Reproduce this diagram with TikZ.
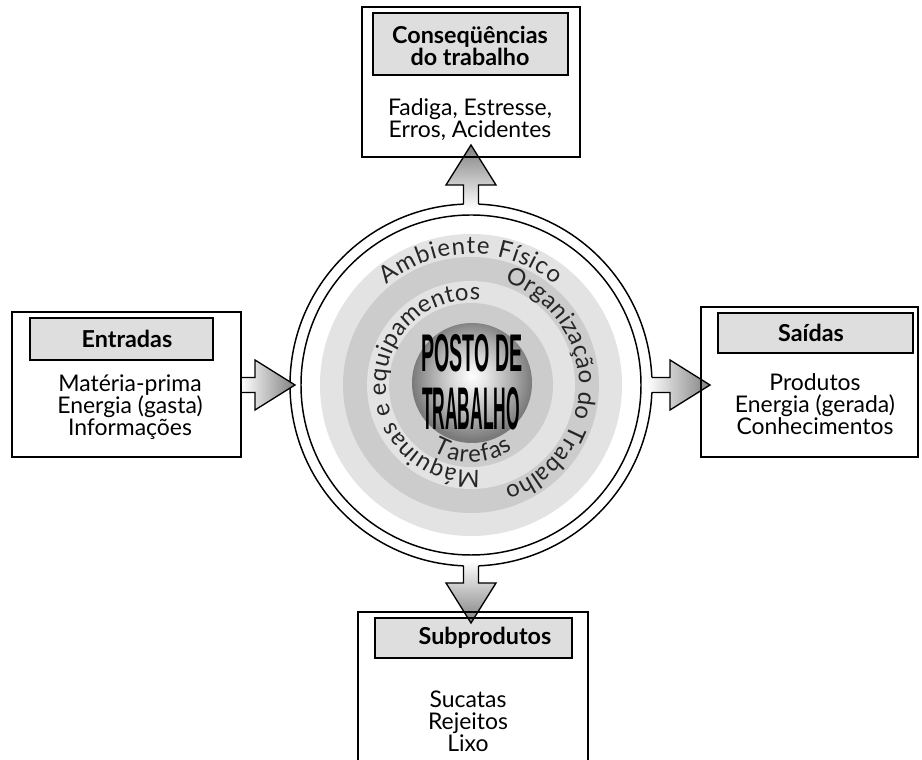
\documentclass[tikz,border=0pt]{standalone}
\usepackage{fontspec}
\usepackage{graphicx}
\setmainfont{Lato}
\newfontfamily\postofamily{Liberation Sans}
\usetikzlibrary{decorations.text}

% shaded globe in the middle of the workstation
\pgfdeclareradialshading{globe}{\pgfpoint{0bp}{3bp}}{%
  color(0bp)=(white); color(6bp)=(black!10); color(17bp)=(black!33);
  color(25bp)=(black!52); color(50bp)=(black!52)}

\newcommand\ringfont{\fontsize{18}{20}\selectfont\color{black!85}}
\newcommand\bodyfont{\fontsize{17.2}{16.5}\selectfont}
\newcommand\headfont{\fontsize{17.5}{15.75}\selectfont\bfseries}

\tikzset{
  box/.style 2 args={draw, line width=1.5pt, inner sep=0pt, outer sep=0pt,
    minimum width={#1*0.75pt}, minimum height={#2*0.75pt}},
  headbox/.style 2 args={box={#1}{#2}, fill=black!13},
  ringline/.style={line width=1.1pt},
  arrowline/.style={line width=1pt, line join=miter},
  headtext/.style={font=\headfont, align=center, inner sep=0pt},
  bodytext/.style={font=\bodyfont, align=center, inner sep=0pt},
  ringtext/.style 2 args={decorate, decoration={text along path,
    text={|\ringfont|#1}, text align={#2}}},
}

\begin{document}
\begin{tikzpicture}[x=0.75pt, y=0.75pt]
\useasboundingbox (0,0) rectangle (922,760);
\fill[white] (0,0) rectangle (922,760);

\coordinate (C) at (471,375);

% double outer ring of the workstation
\draw[ringline] (C) circle[radius=181];
\draw[ringline] (C) circle[radius=170];

% concentric grey bands
\fill[black!11] (C) circle[radius=151];
\fill[black!20] (C) circle[radius=128];
\fill[black!11] (C) circle[radius=104];
\fill[black!20] (C) circle[radius=82];
\shade[shading=globe] (472,377) circle[radius=60];

\node[inner sep=0pt, anchor=base] (posto) at (472,388)
  {\resizebox{75.75pt}{27.75pt}{\postofamily\bfseries POSTO DE}};
\node[inner sep=0pt, anchor=base] (trab) at (471,330)
  {\resizebox{73.5pt}{31.5pt}{\postofamily\bfseries TRABALHO}};

% labels of the bands
\path[ringtext={Ambiente Físico}{fit to path}]
  (C) ++(130:131) arc[start angle=130, end angle=50, radius=131];
\path[ringtext={Organização do Trabalho}{fit to path}]
  (C) ++(72:108) arc[start angle=72, end angle=-72, radius=108];
\path[ringtext={Máquinas e equipamentos}{fit to path}]
  (C) ++(-84:85) arc[start angle=-84, end angle=-276, radius=85];
\path[ringtext={Tarefas}{fit to path}]
  (C) ++(-120:77) arc[start angle=-120, end angle=-57, radius=77];

% grey title bars
\node[headbox={195}{62}] (hTop)   at (470.5,716) {};
\node[headbox={183}{42}] (hLeft)  at (121.5,421) {};
\node[headbox={195}{40}] (hRight) at (815.5,427) {};
\node[headbox={197}{40}] (hBot)   at (473.5,122) {};

% fat arrows
\shade[left color=white, right color=black!50]
  (241,367.5) -- (255,367.5) -- (255,350) -- (295,375) -- (255,400) -- (255,382.5) -- (241,382.5) -- cycle;
\draw[arrowline]
  (241,367.5) -- (255,367.5) -- (255,350) -- (295,375) -- (255,400) -- (255,382.5) -- (241,382.5);

\shade[left color=white, right color=black!50]
  (647,367.5) -- (670,367.5) -- (670,350) -- (710,375) -- (670,400) -- (670,382.5) -- (647,382.5) -- cycle;
\draw[arrowline]
  (651.8,367.5) -- (670,367.5) -- (670,350) -- (710,375) -- (670,400) -- (670,382.5) -- (651.8,382.5);

\shade[bottom color=white, top color=black!50]
  (463.5,551) -- (463.5,575) -- (446,575) -- (471,615) -- (496,575) -- (478.5,575) -- (478.5,551) -- cycle;
\draw[arrowline]
  (463.5,555.8) -- (463.5,575) -- (446,575) -- (471,615) -- (496,575) -- (478.5,575) -- (478.5,555.8);

\shade[top color=white, bottom color=black!50]
  (463.5,199) -- (463.5,177) -- (446,177) -- (471,137) -- (496,177) -- (478.5,177) -- (478.5,199) -- cycle;
\draw[arrowline]
  (463.5,194.2) -- (463.5,177) -- (446,177) -- (471,137) -- (496,177) -- (478.5,177) -- (478.5,194.2);

% box frames and title bar borders on top
\node[box={218}{150}] (bTop)   at (471,678) {};
\node[box={229}{145}] (bLeft)  at (126.5,375.5) {};
\node[box={217}{150}] (bRight) at (809.5,378) {};
\node[box={230}{160}] (bBot)   at (473,68) {};
\foreach \h in {hTop,hLeft,hRight,hBot}
  \draw[line width=1.5pt] (\h.south west) rectangle (\h.north east);

% texts
\node[headtext] (tTop)   at (470,714) {Conseqüências\\do trabalho};
\node[headtext] (tLeft)  at (127,421) {Entradas};
\node[headtext] (tRight) at (811,427) {Saídas};
\node[headtext] (tBot)   at (485,122) {Subprodutos};

\node[bodytext] (lTop)   at (470,640) {Fadiga, Estresse,\\Erros, Acidentes};
\node[bodytext] (lLeft)  at (130,352.5) {Matéria-prima\\Energia (gasta)\\Informações};
\node[bodytext] (lRight) at (815,356) {Produtos\\Energia (gerada)\\Conhecimentos};
\node[bodytext] (lBot)   at (468,38.5) {Sucatas\\Rejeitos\\Lixo};
\end{tikzpicture}
\end{document}
